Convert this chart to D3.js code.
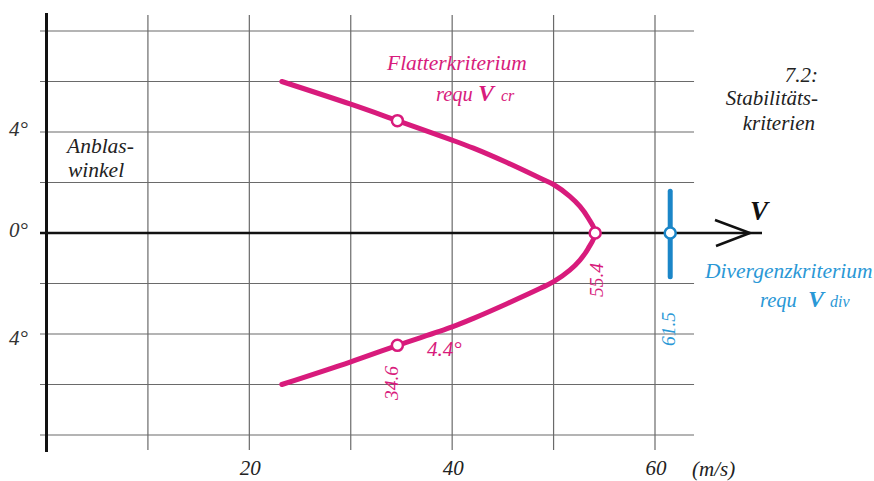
<!DOCTYPE html>
<html>
<head>
<meta charset="utf-8">
<script src="https://cdn.jsdelivr.net/npm/d3@7/dist/d3.min.js"></script>
<style>
  html, body { margin: 0; padding: 0; background: #fff; }
  svg { display: block; }
</style>
</head>
<body>
<div id="chart"></div>
<script>
// flutter curve (speed in m/s, angle of attack in degrees)
var flutterSpeed = [23.2, 30.0, 34.6, 40.0, 42.1, 45.4, 48.7, 50.0, 51.6, 52.6, 53.4, 54.1,
                    53.4, 52.6, 51.6, 50.0, 48.7, 45.4, 42.1, 40.0, 34.6, 30.0, 23.2];
var flutterAngle = [6.0, 5.1, 4.45, 3.68, 3.36, 2.79, 2.17, 1.92, 1.45, 1.05, 0.6, 0,
                    -0.62, -1.07, -1.47, -1.93, -2.19, -2.8, -3.38, -3.72, -4.45, -5.1, -6.0];

// marked points on the flutter curve
var flutterMarkSpeed = [34.6, 54.1, 34.6];
var flutterMarkAngle = [4.45, 0, -4.45];

// divergence criterion
var divSpeed = 61.5;
var divAngleRange = [1.65, -1.73];

// rotated value labels
var valueLabels = ["34.6", "55.4", "61.5"];
var valueLabelSpeed = [34.6, 54.1, 61.5];

// grid / ticks
var speedGrid = [10, 20, 30, 40, 50, 60];
var angleGrid = [8, 6, 4, 2, -2, -4, -6, -8];
var speedTickLabels = ["20", "40", "60"];
var speedTickValues = [20, 40, 60];
var angleTickLabels = ["4°", "0°", "4°"];
var angleTickValues = [4, 0, -4];

var pink = "#d81b7c";
var blue = "#1b86c8";
var blueText = "#2a98d6";
var serif = "'Liberation Serif', 'Times New Roman', 'DejaVu Serif', serif";

var W = 874, H = 481;
var svg = d3.select("#chart").append("svg")
    .attr("width", W).attr("height", H)
    .attr("font-family", serif)
    .attr("font-style", "italic");

var x = d3.scaleLinear().domain([0, 60]).range([46.5, 655]);
var y = d3.scaleLinear().domain([0, 4]).range([233, 132]);

var gridRight = x(63.85);

// grid lines
svg.append("g").selectAll("line").data(speedGrid).enter().append("line")
    .attr("x1", function (d) { return x(d); })
    .attr("x2", function (d) { return x(d); })
    .attr("y1", 15).attr("y2", 450)
    .attr("stroke", "#6a6a6a").attr("stroke-width", 1.2);

svg.append("g").selectAll("line").data(angleGrid).enter().append("line")
    .attr("x1", 40).attr("x2", gridRight)
    .attr("y1", function (d) { return y(d); })
    .attr("y2", function (d) { return y(d); })
    .attr("stroke", "#6a6a6a").attr("stroke-width", 1.2);

// vertical axis
svg.append("line")
    .attr("x1", x(0)).attr("x2", x(0)).attr("y1", 13).attr("y2", 452)
    .attr("stroke", "#111").attr("stroke-width", 3);

// horizontal (speed) axis with open arrow
svg.append("line")
    .attr("x1", 40).attr("x2", 762).attr("y1", y(0)).attr("y2", y(0))
    .attr("stroke", "#111").attr("stroke-width", 2.5);
svg.append("path")
    .attr("d", "M715," + (y(0) - 13) + "L750," + y(0) + "L716," + (y(0) + 13))
    .attr("fill", "none").attr("stroke", "#111").attr("stroke-width", 2.5);
svg.append("text").attr("x", 750).attr("y", 220)
    .attr("font-size", 27).attr("font-weight", "bold").attr("fill", "#111").text("V");

// tick labels
svg.append("g").selectAll("text").data(speedTickValues).enter().append("text")
    .attr("x", function (d) { return x(d) + 1; })
    .attr("y", 475)
    .attr("text-anchor", "middle")
    .attr("font-size", 21).attr("fill", "#222")
    .text(function (d, i) { return speedTickLabels[i]; });
svg.append("text").attr("x", 692).attr("y", 476)
    .attr("font-size", 21).attr("fill", "#222").text("(m/s)");

var angleLabelShift = [4, 4, 11];
svg.append("g").selectAll("text").data(angleTickValues).enter().append("text")
    .attr("x", 9)
    .attr("y", function (d, i) { return y(d) + angleLabelShift[i]; })
    .attr("font-size", 21).attr("fill", "#333")
    .text(function (d, i) { return angleTickLabels[i]; });

// axis title
svg.append("text").attr("x", 67).attr("y", 153).attr("font-size", 21.5).attr("fill", "#222").text("Anblas-");
svg.append("text").attr("x", 68).attr("y", 177).attr("font-size", 21.5).attr("fill", "#222").text("winkel");

// figure caption
var cap = [["7.2:", 818, 82], ["Stabilitäts-", 818, 105], ["kriterien", 815, 130]];
svg.append("g").selectAll("text").data(cap).enter().append("text")
    .attr("x", function (d) { return d[1]; })
    .attr("y", function (d) { return d[2]; })
    .attr("text-anchor", "end")
    .attr("font-size", 21).attr("fill", "#222")
    .text(function (d) { return d[0]; });

// flutter curve
var pts = flutterSpeed.map(function (v, i) { return [v, flutterAngle[i]]; });
var line = d3.line()
    .x(function (d) { return x(d[0]); })
    .y(function (d) { return y(d[1]); })
    .curve(d3.curveCatmullRom.alpha(0.5));
svg.append("path").attr("d", line(pts))
    .attr("fill", "none").attr("stroke", pink)
    .attr("stroke-width", 5).attr("stroke-linecap", "round");

svg.append("g").selectAll("circle").data(flutterMarkSpeed).enter().append("circle")
    .attr("cx", function (d) { return x(d); })
    .attr("cy", function (d, i) { return y(flutterMarkAngle[i]); })
    .attr("r", 5.5)
    .attr("fill", "#fff").attr("stroke", pink).attr("stroke-width", 2.5);

// divergence bar
svg.append("line")
    .attr("x1", x(divSpeed)).attr("x2", x(divSpeed))
    .attr("y1", y(divAngleRange[0])).attr("y2", y(divAngleRange[1]))
    .attr("stroke", blue).attr("stroke-width", 5).attr("stroke-linecap", "round");
svg.append("circle")
    .attr("cx", x(divSpeed)).attr("cy", y(0)).attr("r", 5.5)
    .attr("fill", "#fff").attr("stroke", blue).attr("stroke-width", 2.5);

// rotated value labels (read bottom to top)
var valueLabelBottom = [400, 297, 346];
var valueLabelShift = [1, 8, 5];
var valueLabelColor = [pink, pink, blueText];
svg.append("g").selectAll("text").data(valueLabels).enter().append("text")
    .attr("transform", function (d, i) {
        return "translate(" + (x(valueLabelSpeed[i]) + valueLabelShift[i]) + "," + valueLabelBottom[i] + ")rotate(-90)";
    })
    .attr("font-size", 19.5)
    .attr("fill", function (d, i) { return valueLabelColor[i]; })
    .text(function (d) { return d; });

svg.append("text").attr("x", 427).attr("y", 356)
    .attr("font-size", 21).attr("fill", pink).text("4.4°");

// curve annotations
svg.append("text").attr("x", 387).attr("y", 70).attr("font-size", 21.5).attr("fill", pink).text("Flatterkriterium");
var fl = svg.append("text").attr("y", 101).attr("fill", pink);
fl.append("tspan").attr("x", 436).attr("font-size", 20.5).text("requ");
fl.append("tspan").attr("x", 478).attr("font-size", 24).attr("font-weight", "bold").text("V");
fl.append("tspan").attr("x", 501).attr("font-size", 16).text("cr");

svg.append("text").attr("x", 705).attr("y", 278).attr("font-size", 21.5).attr("fill", blueText).text("Divergenzkriterium");
var dv = svg.append("text").attr("y", 307).attr("fill", blueText);
dv.append("tspan").attr("x", 760).attr("font-size", 20.5).text("requ");
dv.append("tspan").attr("x", 808).attr("font-size", 24).attr("font-weight", "bold").text("V");
dv.append("tspan").attr("x", 830).attr("font-size", 16).text("div");
</script>
</body>
</html>
